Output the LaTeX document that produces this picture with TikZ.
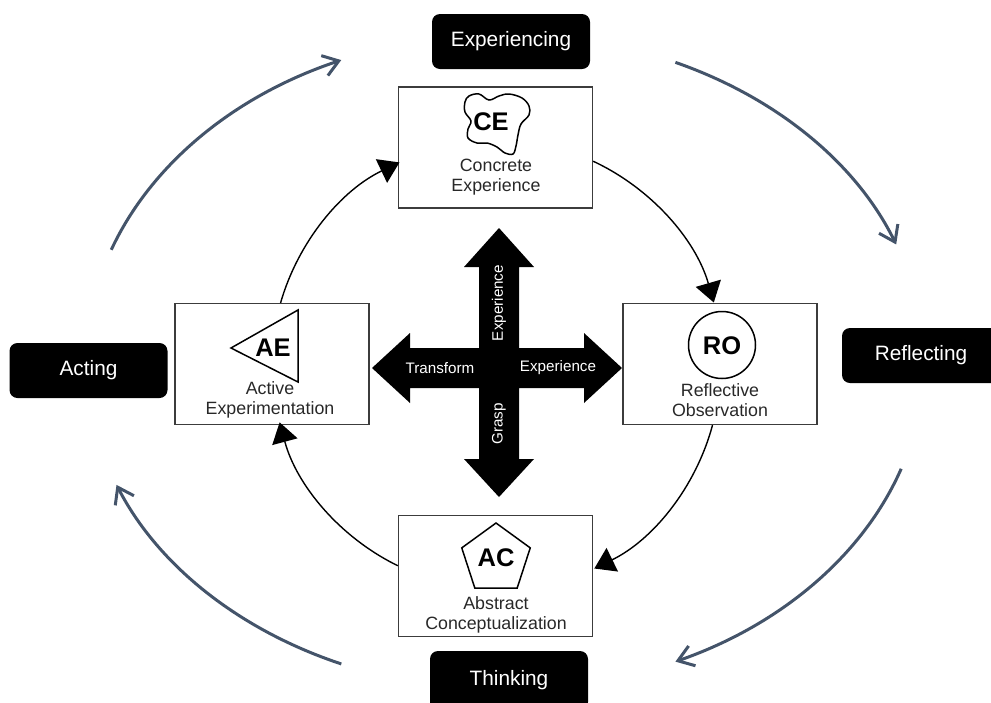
\documentclass[tikz,border=0pt]{standalone}
\usepackage{fontspec}
\setmainfont{Liberation Sans}
\usetikzlibrary{arrows.meta}

\definecolor{cycleblue}{RGB}{68,84,106}
\definecolor{boxtext}{RGB}{40,40,40}
\definecolor{boxline}{RGB}{60,60,60}

\begin{document}
\begin{tikzpicture}[x=1pt,y=1pt,
  mode/.style={draw=boxline, line width=1.3pt, minimum width=194pt, minimum height=121pt, inner sep=0pt},
  modetext/.style={text=boxtext, font=\fontsize{17.8}{20}\selectfont, align=center},
  abbr/.style={font=\fontsize{25.5}{27}\selectfont\bfseries, text=black},
  icon/.style={draw=black, line width=1.5pt},
  phase/.style={fill=black, rounded corners=8pt, text=white, font=\fontsize{20.8}{23}\selectfont, minimum width=158pt, minimum height=55pt, inner sep=0pt},
  flow/.style={line width=1.4pt, -{Triangle[length=20pt,width=26pt]}},
  outer/.style={draw=cycleblue, line width=3pt, -{Straight Barb[length=15pt,width=21pt]}},
  crosstext/.style={text=white, font=\fontsize{15.2}{17}\selectfont}
]
\useasboundingbox (0,0) rectangle (991,-702);
\clip (0,0) rectangle (991,-702);

% the four learning modes
\node[mode] (ce) at (495.5,-147.5) {};
\node[mode] (ro) at (720,-364) {};
\node[mode] (ac) at (495.5,-576) {};
\node[mode] (ae) at (272,-364) {};

\node[modetext] (ce-l) at (496,-177) {Concrete\\Experience};
\node[modetext] (ro-l) at (720,-400) {Reflective\\Observation};
\node[modetext] (ac-l) at (496,-615) {Abstract\\Conceptualization};
\node[modetext] (ae-l) at (270,-400) {Active\\Experimentation};

% icons
\draw[icon] plot[smooth cycle, tension=0.6] coordinates {
  (469,-96) (479,-94) (489,-100) (499,-96) (509,-94) (522,-98) (529,-106)
  (529,-115) (521,-124) (518,-135) (516,-146) (513,-154) (505,-153)
  (497,-147) (487,-143) (477,-143) (468,-138) (468,-129) (471,-121)
  (465,-112) (465,-102)};
\node[abbr] (ce-a) at (491,-122) {CE};

\draw[icon] (722,-345) circle[radius=33.5];
\node[abbr] (ro-a) at (722,-346) {RO};

\draw[icon] (496,-559) +(90:36) -- +(162:36) -- +(234:36) -- +(306:36) -- +(18:36) -- cycle;
\node[abbr] (ac-a) at (496,-558) {AC};

\draw[icon] (231,-348) -- (298,-310) -- (298,-382) -- cycle;
\node[abbr] (ae-a) at (273,-348) {AE};

% inner cycle between the modes
\draw[flow] (ce.-8.5) arc[start angle=65, end angle=16, radius=224];
\draw[flow] (ro.-97.6) arc[start angle=-15, end angle=-64, radius=224];
\draw[flow] (ac.174.7) arc[start angle=244, end angle=195, radius=224];
\draw[flow] (ae.82.4) arc[start angle=164, end angle=115.5, radius=224];

% central cross of double arrows
\fill[black] (499,-228) -- (534,-267) -- (519,-267) -- (519,-348) -- (584,-348)
  -- (584,-333) -- (622,-368) -- (584,-403) -- (584,-388) -- (519,-388)
  -- (519,-459) -- (534,-459) -- (499,-497) -- (464,-459) -- (479,-459)
  -- (479,-388) -- (410,-388) -- (410,-403) -- (372,-368) -- (410,-333)
  -- (410,-348) -- (479,-348) -- (479,-267) -- (464,-267) -- cycle;
\node[crosstext] (x-tr) at (440,-368) {Transform};
\node[crosstext] (x-ex) at (558,-368) {Experience};
\node[crosstext, rotate=90] (x-up) at (499,-303) {Experience};
\node[crosstext, rotate=90] (x-gr) at (499,-424) {Grasp};

% phase labels
\node[phase] (exp) at (511,-41.5) {Experiencing};
\node[phase] (ref) at (921,-355.5) {Reflecting};
\node[phase, minimum height=59pt] (thi) at (509,-680.5) {Thinking};
\node[phase] (act) at (88.5,-370.5) {Acting};

% outer cycle
\coordinate (e) at (505,-362);
\draw[outer] (e) ++(160:419 and 328) arc[start angle=160, end angle=113, x radius=419, y radius=328];
\draw[outer] (e) ++(66:419 and 328) arc[start angle=66, end angle=21, x radius=419, y radius=328];
\draw[outer] (e) ++(-19:419 and 328) arc[start angle=-19, end angle=-66, x radius=419, y radius=328];
\draw[outer] (e) ++(247:419 and 328) arc[start angle=247, end angle=202, x radius=419, y radius=328];
\end{tikzpicture}
\end{document}
